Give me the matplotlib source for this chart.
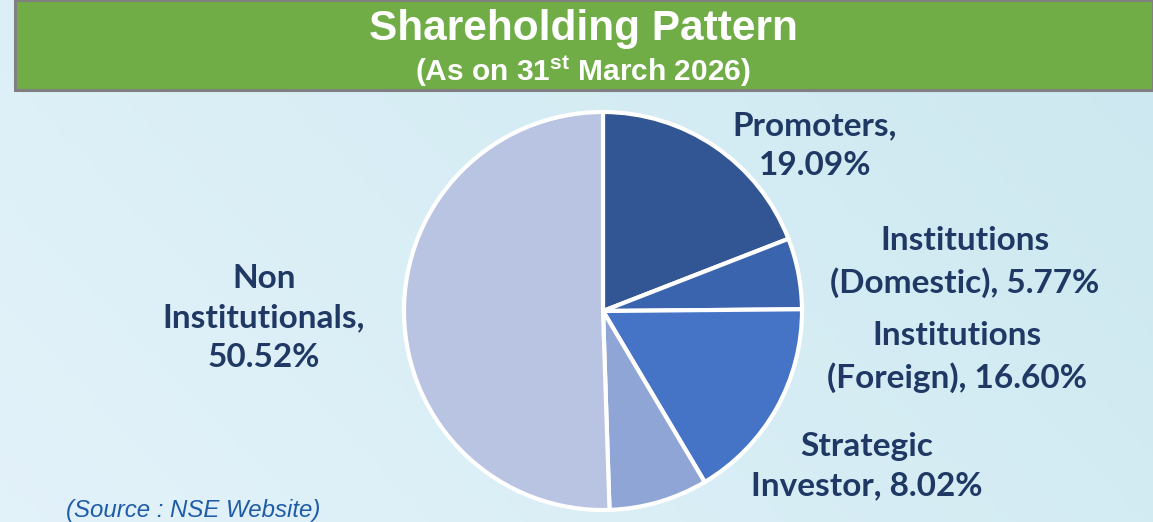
import numpy as np
import matplotlib
matplotlib.use("Agg")
import matplotlib.pyplot as plt
from matplotlib.patches import Rectangle

# shareholding split, clockwise from 12 o'clock
categories = ["Promoters", "Institutions (Domestic)", "Institutions (Foreign)",
              "Strategic Investor", "Non Institutionals"]
shares = [19.09, 5.77, 16.60, 8.02, 50.52]
label_lines = [
    "Promoters,\n19.09%",
    "Institutions\n(Domestic), 5.77%",
    "Institutions\n(Foreign), 16.60%",
    "Strategic\nInvestor, 8.02%",
    "Non\nInstitutionals,\n50.52%",
]
colors = ["#325593", "#3B64AE", "#4573C5", "#8FA5D5", "#B9C3E2"]

TITLE = "Shareholding Pattern"
SUBTITLE = r"(As on 31$^{\mathregular{st}}$ March 2026)"
SOURCE = "(Source : NSE Website)"

W, H = 1153, 522
plt.rcParams["mathtext.fontset"] = "custom"
plt.rcParams["mathtext.rm"] = "Liberation Sans:bold"

fig = plt.figure(figsize=(W / 100, H / 100), dpi=100)

# soft blue backdrop
bg = fig.add_axes([0, 0, 1, 1])
gx = np.linspace(0, 1, 200)
gy = np.linspace(0, 1, 100)
XX, YY = np.meshgrid(gx, gy)
c1 = np.array([0.89, 0.95, 0.98])
c2 = np.array([0.80, 0.91, 0.94])
t = (0.7 * XX + 0.3 * YY)[..., None]
bg.imshow(c1 * (1 - t) + c2 * t, extent=[0, W, 0, H], aspect="auto", origin="lower")
bg.set_xlim(0, W)
bg.set_ylim(0, H)
bg.axis("off")

# green header band
bg.add_patch(Rectangle((15, H - 90), W - 15, 90, facecolor="#70AD47",
                       edgecolor="#808080", linewidth=2.2))
bg.text(583, H - 29, TITLE, ha="center", va="center", color="white",
        fontsize=30.5, fontweight="bold", family="Liberation Sans")
bg.text(583, H - 71, SUBTITLE, ha="center", va="center", color="white",
        fontsize=21.5, fontweight="bold", family="Liberation Sans")

bg.text(66, H - 510, SOURCE, ha="left", va="center", color="#1F5CA8",
        fontsize=17.3, style="italic", family="Liberation Sans")

# pie
cx, cy, r = 603, 311, 201
ax = fig.add_axes([(cx - r) / W, (H - cy - r) / H, 2 * r / W, 2 * r / H])
ax.pie(shares, colors=colors, startangle=90, counterclock=False,
       wedgeprops=dict(edgecolor="white", linewidth=3))
ax.set_xlim(-1.01, 1.01)
ax.set_ylim(-1.01, 1.01)
ax.axis("off")

label_pos = [(815, 146), (965, 262), (957, 357), (867, 466), (264, 318)]
for txt, (px, py) in zip(label_lines, label_pos):
    bg.text(px, H - py, txt, ha="center", va="center", color="#1F3864",
            fontsize=24, fontweight="bold", family="Lato", linespacing=1.45)

fig.savefig("out.png", dpi=100)
